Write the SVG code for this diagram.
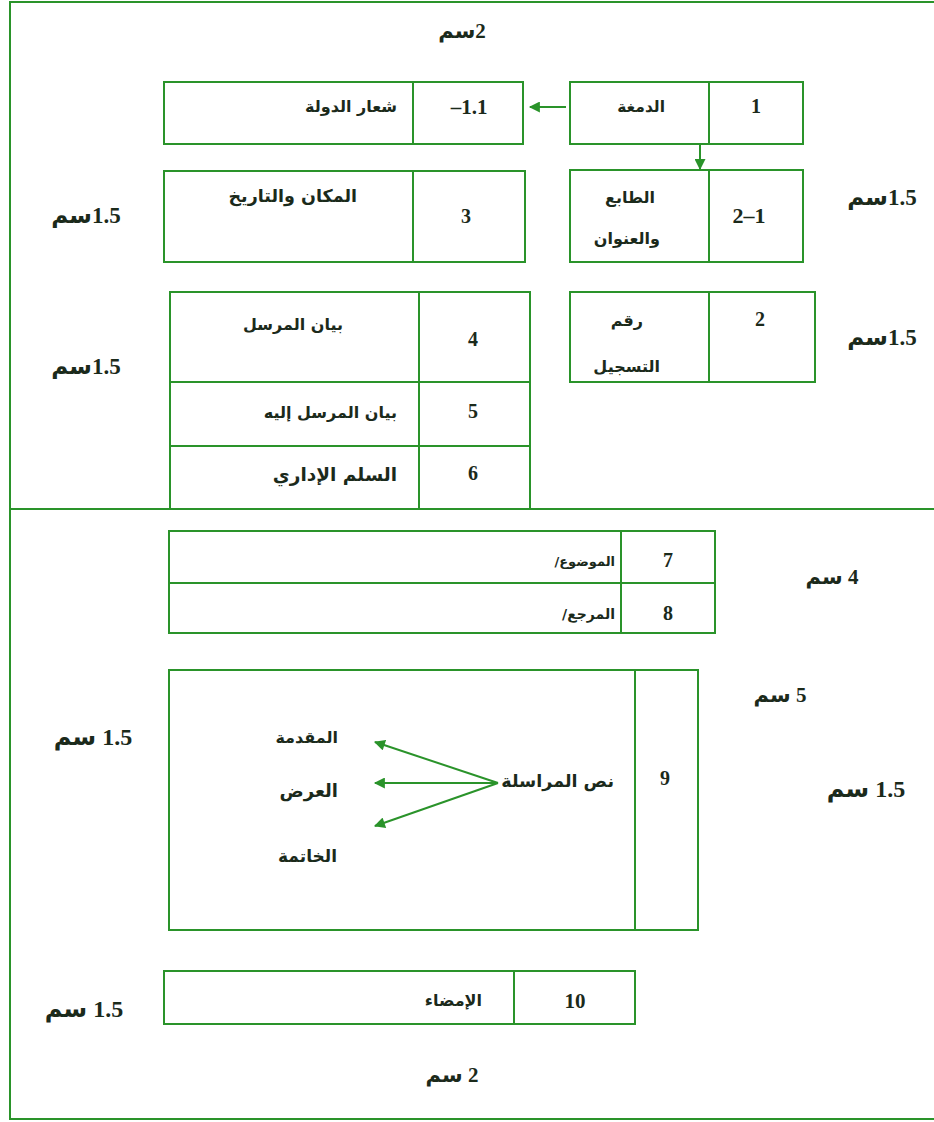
<svg xmlns="http://www.w3.org/2000/svg" width="934" height="1122" viewBox="0 0 934 1122">
  <style>
    .box { fill: none; stroke: #2a932a; stroke-width: 2; }
    .ln { stroke: #2a932a; stroke-width: 2; fill: none; }
    .num { font-family: "Liberation Serif", "DejaVu Serif", serif; font-weight: bold; font-size: 20px; fill: #1b2a1b; text-anchor: middle; }
    .ar { font-family: "DejaVu Sans", "Noto Sans", sans-serif; font-weight: bold; font-size: 16px; fill: #1b2a1b; direction: rtl; unicode-bidi: embed; text-anchor: start; }
    .dim { font-family: "Liberation Serif", "DejaVu Sans", serif; font-weight: bold; font-size: 23px; fill: #1b2a1b; direction: rtl; unicode-bidi: embed; text-anchor: middle; }
    .dim.sm { font-size: 21px; }
    .dim.wide { font-size: 24px; }
    .conn { stroke: #2a932a; stroke-width: 2; fill: none; marker-end: url(#head); }
  </style>
  <defs>
    <marker id="head" viewBox="0 0 10 10" refX="9" refY="5" markerWidth="6" markerHeight="5.5" orient="auto" markerUnits="strokeWidth">
      <path d="M0,0 L10,5 L0,10 z" fill="#2a932a"/>
    </marker>
  </defs>

  <rect width="934" height="1122" fill="#ffffff"/>

  <!-- page frame and the split between header and body -->
  <g id="frame">
    <rect class="box" x="10" y="2" width="940" height="1117"/>
    <line class="ln" x1="10" y1="509" x2="934" y2="509"/>
  </g>

  <!-- margin measurements -->
  <g id="dimensions">
    <text class="dim sm" x="462" y="38">2سم</text>
    <text class="dim" x="882" y="205">1.5سم</text>
    <text class="dim" x="882" y="345">1.5سم</text>
    <text class="dim" x="86" y="223">1.5سم</text>
    <text class="dim" x="86" y="374">1.5سم</text>
    <text class="dim sm" x="832" y="584">4 سم</text>
    <text class="dim sm" x="780" y="702">5 سم</text>
    <text class="dim wide" x="93" y="745">1.5 سم</text>
    <text class="dim wide" x="866" y="797">1.5 سم</text>
    <text class="dim wide" x="84" y="1017">1.5 سم</text>
    <text class="dim sm" x="452" y="1082">2 سم</text>
  </g>

  <g id="node-1">
    <rect class="box" x="570" y="82" width="233" height="62"/>
    <line class="ln" x1="709" y1="82" x2="709" y2="144"/>
    <text class="num" x="756" y="113">1</text>
    <text class="ar" x="665" y="112" style="font-size:15.5px">الدمغة</text>
  </g>

  <g id="node-1-1">
    <rect class="box" x="164" y="82" width="359" height="62"/>
    <line class="ln" x1="413" y1="82" x2="413" y2="144"/>
    <text class="num" x="469" y="114" style="font-size:21px">–1.1</text>
    <text class="ar" x="397" y="112">شعار الدولة</text>
  </g>

  <g id="node-2-1">
    <rect class="box" x="570" y="170" width="233" height="92"/>
    <line class="ln" x1="709" y1="170" x2="709" y2="262"/>
    <text class="num" x="749" y="223" style="font-size:22px">2–1</text>
    <text class="ar" x="655" y="203">الطابع</text>
    <text class="ar" x="660" y="244">والعنوان</text>
  </g>

  <g id="node-2">
    <rect class="box" x="570" y="292" width="245" height="90"/>
    <line class="ln" x1="709" y1="292" x2="709" y2="382"/>
    <text class="num" x="760" y="326">2</text>
    <text class="ar" x="643" y="326">رقم</text>
    <text class="ar" x="660" y="372">التسجيل</text>
  </g>

  <g id="node-3">
    <rect class="box" x="164" y="171" width="361" height="91"/>
    <line class="ln" x1="413" y1="171" x2="413" y2="262"/>
    <text class="num" x="466" y="223">3</text>
    <text class="ar" x="357" y="202" style="font-size:17.5px">المكان والتاريخ</text>
  </g>

  <g id="node-4-6">
    <rect class="box" x="170" y="292" width="360" height="217"/>
    <line class="ln" x1="419" y1="292" x2="419" y2="509"/>
    <line class="ln" x1="170" y1="382" x2="530" y2="382"/>
    <line class="ln" x1="170" y1="446" x2="530" y2="446"/>
    <text class="num" x="473" y="346">4</text>
    <text class="ar" x="343" y="330">بيان المرسل</text>
    <text class="num" x="473" y="418">5</text>
    <text class="ar" x="397" y="418">بيان المرسل إليه</text>
    <text class="num" x="473" y="480">6</text>
    <text class="ar" x="397" y="481" style="font-size:18.5px">السلم الإداري</text>
  </g>

  <g id="node-7-8">
    <rect class="box" x="169" y="531" width="546" height="102"/>
    <line class="ln" x1="621" y1="531" x2="621" y2="633"/>
    <line class="ln" x1="169" y1="583" x2="715" y2="583"/>
    <text class="num" x="668" y="567">7</text>
    <text class="ar" x="615" y="566" style="font-size:13px">الموضوع/</text>
    <text class="num" x="668" y="620">8</text>
    <text class="ar" x="615" y="619" style="font-size:14px">المرجع/</text>
  </g>

  <g id="node-9">
    <rect class="box" x="169" y="670" width="529" height="260"/>
    <line class="ln" x1="635" y1="670" x2="635" y2="930"/>
    <text class="num" x="665" y="785">9</text>
    <text class="ar" x="614" y="787" style="font-size:17.5px">نص المراسلة</text>
    <text class="ar" x="338" y="743">المقدمة</text>
    <text class="ar" x="338" y="797" style="font-size:18px">العرض</text>
    <text class="ar" x="337" y="862" style="font-size:17px">الخاتمة</text>
  </g>

  <g id="node-10">
    <rect class="box" x="164" y="971" width="471" height="53"/>
    <line class="ln" x1="514" y1="971" x2="514" y2="1024"/>
    <text class="num" x="575" y="1008" style="font-size:21px">10</text>
    <text class="ar" x="482" y="1006">الإمضاء</text>
  </g>

  <!-- connectors -->
  <g id="connectors">
    <line class="conn" x1="566" y1="107" x2="530" y2="107"/>
    <line class="conn" x1="700" y1="144" x2="700" y2="169"/>
    <line class="conn" x1="498" y1="783" x2="375" y2="742"/>
    <line class="conn" x1="498" y1="783" x2="375" y2="783"/>
    <line class="conn" x1="498" y1="783" x2="375" y2="826"/>
  </g>
</svg>
